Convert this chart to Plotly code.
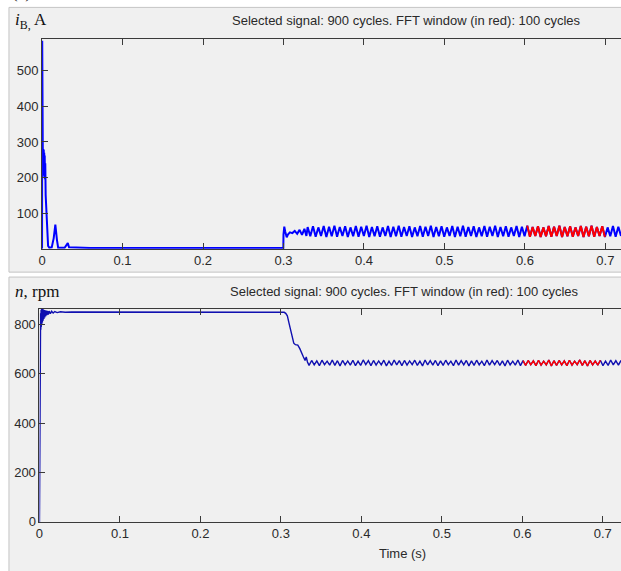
import numpy as np
import plotly.graph_objects as go

# ---------------- data ----------------
# Battery current i_B (A): start-up transient and load step at 0.3 s
ib_t_start = [0, 0.0002, 0.0006, 0.0009, 0.0012, 0.0015, 0.0018, 0.0021, 0.0024, 0.0027,
              0.003, 0.0033, 0.0036, 0.004, 0.0045, 0.0055, 0.0065, 0.0075, 0.009, 0.012,
              0.0145, 0.0165, 0.0185, 0.02, 0.028, 0.0305, 0.032, 0.0335, 0.06, 0.1,
              0.15, 0.2, 0.25, 0.2998, 0.3, 0.301, 0.3022, 0.304, 0.3055, 0.308,
              0.311, 0.314, 0.317, 0.320, 0.323, 0.326, 0.3285]
ib_start = [0, 584, 260, 285, 215, 280, 205, 278, 210, 270,
            200, 262, 195, 240, 150, 100, 45, 8, 3, 4,
            30, 68, 25, 3, 3, 10, 16, 4, 2, 2,
            2, 2, 2, 2, 40, 62, 48, 32, 40, 46,
            44, 50, 42, 53, 39, 56, 36]
# steady ripple of i_B from 0.33 s to the right edge (peaks / troughs)
ib_ripple_span = [0.33, 0.7194]
ib_ripple = [61, 35, 63, 34, 60, 36, 64, 33, 62, 35, 65, 34, 61, 36, 63, 33, 60, 35, 64, 34,
             62, 36, 65, 33, 61, 35, 63, 34, 60, 36, 64, 33, 62, 35, 65, 34, 61, 36, 63, 33,
             60, 35, 64, 34, 62, 36, 65, 33, 61, 35, 63, 34, 60, 36, 64, 33, 62, 35, 65, 34,
             61, 36, 63, 33, 60, 35, 64, 34, 62, 36, 65, 33, 61, 35, 63, 34, 60, 36, 64, 33,
             62, 35, 65, 34, 61, 36, 63, 33, 60, 35, 64, 34, 62, 36, 65, 33, 61, 35, 63, 34,
             60, 36, 64, 33, 62, 35, 65, 34, 61, 36, 63, 33, 60, 35, 64, 34, 62, 36]

# Motor speed n (rpm)
n_t_start = [0, 0.0004, 0.0008, 0.0011, 0.0014, 0.0017, 0.002, 0.0023, 0.0026, 0.0029,
             0.0032, 0.0036, 0.004, 0.0045, 0.005, 0.0055, 0.006, 0.0066, 0.0072, 0.0078,
             0.0085, 0.0092, 0.01, 0.011, 0.012, 0.0135, 0.015, 0.017, 0.019, 0.022,
             0.026, 0.032, 0.04, 0.1, 0.2, 0.3, 0.304, 0.306, 0.308, 0.310,
             0.312, 0.314, 0.316, 0.318, 0.321, 0.3235, 0.3255, 0.328, 0.330, 0.3315,
             0.333]
n_start = [0, 320, 700, 790, 845, 778, 858, 790, 862, 800,
           860, 808, 862, 815, 860, 822, 858, 828, 857, 833,
           856, 838, 855, 840, 854, 843, 853, 846, 852, 848,
           851, 849, 850, 850, 850, 850, 849, 845, 835, 806,
           776, 746, 724, 718, 716, 702, 684, 668, 654, 668,
           648]
n_ripple_span = [0.335, 0.7226]
n_ripple = [634, 654, 636, 652, 633, 655, 637, 651, 635, 656, 634, 653, 632, 654, 636, 652, 635, 655, 633, 651,
            634, 656, 637, 653, 633, 654, 635, 652, 636, 655, 632, 651, 634, 656, 636, 653, 633, 654, 635, 652,
            637, 655, 634, 651, 632, 656, 636, 653, 635, 654, 633, 652, 634, 655, 637, 651, 633, 656, 635, 653,
            636, 654, 632, 652, 634, 655, 636, 651, 633, 656, 635, 653, 637, 654, 634, 652, 632, 655, 636, 651,
            635, 656, 633, 653, 634, 654, 637, 652, 633, 655, 635, 651, 636, 656, 632, 653, 634, 654, 636, 652,
            633, 655, 635, 651, 637, 656, 634, 653, 632, 654, 636, 652, 635, 655, 633, 651, 634, 656, 636, 653,
            635, 654]

fft_window = [0.6, 0.7]
x_ticks = [0, 0.1, 0.2, 0.3, 0.4, 0.5, 0.6, 0.7]
x_ticklabels = ["0", "0.1", "0.2", "0.3", "0.4", "0.5", "0.6", "0.7"]
ib_yticks = [100, 200, 300, 400, 500]
n_yticks = [0, 200, 400, 600, 800]
panel_title = "Selected signal: 900 cycles. FFT window (in red): 100 cycles"

# ---------------- assemble series ----------------
ib_t = np.concatenate([ib_t_start, np.linspace(ib_ripple_span[0], ib_ripple_span[1], len(ib_ripple))])
ib_v = np.concatenate([ib_start, ib_ripple])
n_t = np.concatenate([n_t_start, np.linspace(n_ripple_span[0], n_ripple_span[1], len(n_ripple))])
n_v = np.concatenate([n_start, n_ripple])

ib_mask = (ib_t >= fft_window[0]) & (ib_t <= fft_window[1])
n_mask = (n_t >= fft_window[0]) & (n_t <= fft_window[1])

W, H = 621, 571
BLUE = "#0000FF"
NBLUE = "#1010B0"
RED = "#FF0000"
AX = "#3a3a3a"
TICKFONT = dict(family="Liberation Sans Narrow, Liberation Sans, Arial", size=13, color="#2a2a2a")

fig = go.Figure()
fig.add_trace(go.Scatter(x=ib_t, y=ib_v, mode="lines", line=dict(color=BLUE, width=2),
                         xaxis="x", yaxis="y", showlegend=False, hoverinfo="skip"))
fig.add_trace(go.Scatter(x=ib_t[ib_mask], y=ib_v[ib_mask], mode="lines", line=dict(color=RED, width=2),
                         xaxis="x", yaxis="y", showlegend=False, hoverinfo="skip"))
fig.add_trace(go.Scatter(x=n_t, y=n_v, mode="lines", line=dict(color=NBLUE, width=1.4),
                         xaxis="x2", yaxis="y2", showlegend=False, hoverinfo="skip"))
fig.add_trace(go.Scatter(x=n_t[n_mask], y=n_v[n_mask], mode="lines", line=dict(color=RED, width=1.4),
                         xaxis="x2", yaxis="y2", showlegend=False, hoverinfo="skip"))


def px_x(p):
    return p / W


def px_y(p):
    return 1 - p / H


common_x = dict(tickvals=x_ticks, ticktext=x_ticklabels, ticks="inside", ticklen=6, tickcolor=AX,
                showline=True, linecolor=AX, linewidth=1, mirror="ticks", showgrid=False,
                zeroline=False, tickfont=TICKFONT, fixedrange=True)
common_y = dict(ticks="inside", ticklen=6, tickcolor=AX, showline=True, linecolor=AX, linewidth=1,
                mirror=False, showgrid=False, zeroline=False, tickfont=TICKFONT, fixedrange=True)

fig.update_layout(
    width=W, height=H, margin=dict(l=0, r=0, t=0, b=0),
    paper_bgcolor="white", plot_bgcolor="white",
    xaxis=dict(domain=[px_x(38.3), 1], range=[0, 0.7194], anchor="y", **common_x),
    yaxis=dict(domain=[px_y(252.3), px_y(40)], range=[0, 588], anchor="x", tickvals=ib_yticks, **common_y),
    xaxis2=dict(domain=[px_x(35.7), 1], range=[0, 0.7226], anchor="y2", **common_x),
    yaxis2=dict(domain=[px_y(529.3), px_y(313)], range=[0, 864], anchor="x2", tickvals=n_yticks, **common_y),
    shapes=[
        dict(type="rect", xref="paper", yref="paper", x0=px_x(5), x1=1.02, y0=px_y(276), y1=px_y(7.5),
             fillcolor="#F0F0F0", line=dict(color="#C4C4C4", width=1), layer="below"),
        dict(type="rect", xref="paper", yref="paper", x0=px_x(5), x1=1.02, y0=-0.02, y1=px_y(281),
             fillcolor="#F0F0F0", line=dict(color="#C4C4C4", width=1), layer="below"),
    ],
    annotations=[
        dict(text="(a)", xref="paper", yref="paper", x=px_x(6), y=px_y(4), xanchor="left", yanchor="bottom",
             showarrow=False, font=dict(family="Liberation Serif", size=17, color="#222")),
        dict(text="<i>i</i><sub>B,</sub> A", xref="paper", yref="paper", x=px_x(9), y=px_y(21),
             xanchor="left", yanchor="middle", showarrow=False,
             font=dict(family="Liberation Serif", size=17, color="#111")),
        dict(text=panel_title, xref="paper", yref="paper", x=px_x(405), y=px_y(21),
             xanchor="center", yanchor="middle", showarrow=False, font=TICKFONT),
        dict(text="<i>n</i>, rpm", xref="paper", yref="paper", x=px_x(9), y=px_y(296),
             xanchor="left", yanchor="middle", showarrow=False,
             font=dict(family="Liberation Serif", size=17, color="#111")),
        dict(text=panel_title, xref="paper", yref="paper", x=px_x(403), y=px_y(296),
             xanchor="center", yanchor="middle", showarrow=False, font=TICKFONT),
        dict(text="Time (s)", xref="paper", yref="paper", x=px_x(401), y=px_y(561),
             xanchor="center", yanchor="middle", showarrow=False, font=TICKFONT),
    ],
)

fig.write_html("out.html", config={"displayModeBar": False, "staticPlot": True},
               post_script="document.body.style.margin='0';document.body.style.overflow='hidden';")
